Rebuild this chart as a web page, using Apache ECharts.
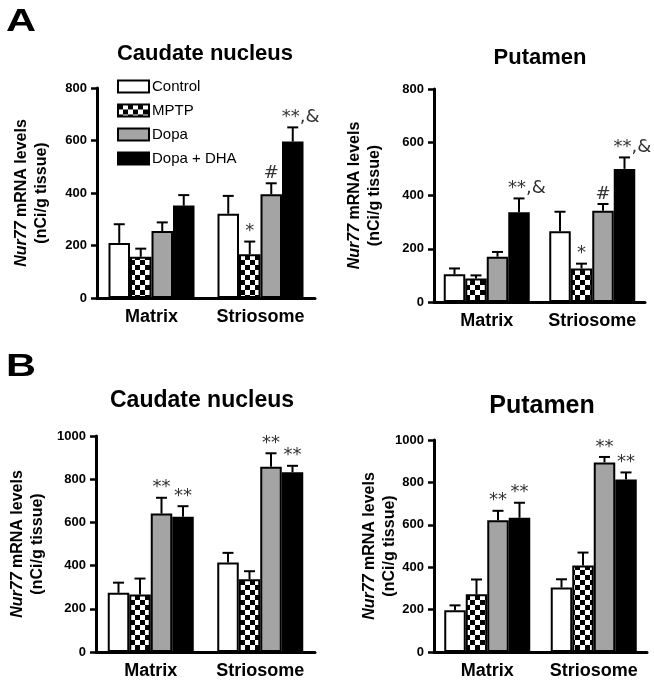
<!DOCTYPE html>
<html><head><meta charset="utf-8">
<script src="https://cdn.jsdelivr.net/npm/echarts@6/dist/echarts.min.js"></script>
<style>html,body{margin:0;padding:0;background:#fff}#c{width:654px;height:683px}</style>
</head><body><div id="c"></div>
<script>
// ---- data ----
const categories = ['Matrix', 'Striosome'];
const groups = ['Control', 'MPTP', 'Dopa', 'Dopa + DHA'];
const yTicksA = [0, 200, 400, 600, 800];
const yTicksB = [0, 200, 400, 600, 800, 1000];

// Panel A, caudate nucleus: [Matrix, Striosome]
const aCaudControl = [210, 321], aCaudControlErr = [71, 68];
const aCaudMPTP = [157, 167],    aCaudMPTPErr = [31, 48];
const aCaudDopa = [255, 395],    aCaudDopaErr = [33, 42];
const aCaudDHA = [352, 596],     aCaudDHAErr = [40, 54];
const aCaudMarks = [['', '', '', ''], ['', '*', '#', '**,&']];

// Panel A, putamen
const aPutControl = [104, 266], aPutControlErr = [22, 73];
const aPutMPTP = [88, 126],     aPutMPTPErr = [12, 18];
const aPutDopa = [170, 343],    aPutDopaErr = [18, 25];
const aPutDHA = [337, 500],     aPutDHAErr = [52, 43];
const aPutMarks = [['', '', '', '**,&'], ['', '*', '#', '**,&']];

// Panel B, caudate nucleus
const bCaudControl = [274, 414], bCaudControlErr = [47, 45];
const bCaudMPTP = [266, 337],    bCaudMPTPErr = [74, 37];
const bCaudDopa = [641, 858],    bCaudDopaErr = [73, 62];
const bCaudDHA = [626, 832],     bCaudDHAErr = [49, 30];
const bCaudMarks = [['', '', '**', '**'], ['', '', '**', '**']];

// Panel B, putamen
const bPutControl = [197, 304], bPutControlErr = [23, 39];
const bPutMPTP = [272, 408],    bPutMPTPErr = [70, 61];
const bPutDopa = [622, 894],    bPutDopaErr = [44, 26];
const bPutDHA = [633, 814],     bPutDHAErr = [71, 33];
const bPutMarks = [['', '', '**', '**'], ['', '', '**', '**']];

// ---- styling ----
const FONT = 'Arial, "Liberation Sans", sans-serif';
const MARKFONT = '"DejaVu Sans", Arial, sans-serif';
function checker() {
  const c = document.createElement('canvas'); c.width = 10; c.height = 10;
  const g = c.getContext('2d');
  g.fillStyle = '#fff'; g.fillRect(0, 0, 10, 10);
  g.fillStyle = '#000'; g.fillRect(0, 0, 5, 5); g.fillRect(5, 5, 5, 5);
  return c;
}
const fills = ['#ffffff', { image: checker(), repeat: 'repeat' }, '#a4a4a4', '#000000'];
const BW = 21.5;

const panels = [
  { means: [aCaudControl, aCaudMPTP, aCaudDopa, aCaudDHA], errs: [aCaudControlErr, aCaudMPTPErr, aCaudDopaErr, aCaudDHAErr], marks: aCaudMarks, ticks: yTicksA,
    grid: { left: 97, top: 88, width: 218, height: 210 }, nameGap: 45 },
  { means: [aPutControl, aPutMPTP, aPutDopa, aPutDHA], errs: [aPutControlErr, aPutMPTPErr, aPutDopaErr, aPutDHAErr], marks: aPutMarks, ticks: yTicksA,
    grid: { left: 434, top: 89, width: 211, height: 213 }, nameGap: 49 },
  { means: [bCaudControl, bCaudMPTP, bCaudDopa, bCaudDHA], errs: [bCaudControlErr, bCaudMPTPErr, bCaudDopaErr, bCaudDHAErr], marks: bCaudMarks, ticks: yTicksB,
    grid: { left: 96, top: 436, width: 219, height: 216 }, nameGap: 48 },
  { means: [bPutControl, bPutMPTP, bPutDopa, bPutDHA], errs: [bPutControlErr, bPutMPTPErr, bPutDopaErr, bPutDHAErr], marks: bPutMarks, ticks: yTicksB,
    grid: { left: 434, top: 440, width: 213, height: 212 }, nameGap: 34 }
];

const grid = [], xAxis = [], yAxis = [], series = [];
panels.forEach((p, k) => {
  grid.push(Object.assign({ containLabel: false }, p.grid));
  xAxis.push({
    type: 'category', gridIndex: k, data: categories,
    axisLine: { lineStyle: { color: '#000', width: 3 } },
    axisTick: { show: false },
    axisLabel: { interval: 0, hideOverlap: false, color: '#000', fontFamily: FONT, fontWeight: 'bold', fontSize: 18, margin: 10 }
  });
  const t = p.ticks;
  yAxis.push({
    type: 'value', gridIndex: k, min: t[0], max: t[t.length - 1], interval: t[1] - t[0],
    splitLine: { show: false },
    axisLine: { show: true, lineStyle: { color: '#000', width: 3 } },
    axisTick: { show: true, length: 6, lineStyle: { color: '#000', width: 2.5 } },
    axisLabel: { color: '#000', fontFamily: FONT, fontWeight: 'bold', fontSize: 13, margin: 10, formatter: v => String(v) },
    name: '{i|Nur77} mRNA levels\n(nCi/g tissue)',
    nameLocation: 'middle', nameRotate: 90, nameGap: p.nameGap, nameMoveOverlap: false,
    nameTextStyle: {
      color: '#000', fontFamily: FONT, fontWeight: 'bold', fontSize: 16, lineHeight: 20, align: 'center',
      rich: { i: { fontFamily: FONT, fontWeight: 'bold', fontStyle: 'italic', fontSize: 16, lineHeight: 20, color: '#000' } }
    }
  });
  groups.forEach((gname, gi) => {
    series.push({
      type: 'bar', name: gname, xAxisIndex: k, yAxisIndex: k, data: p.means[gi],
      barWidth: BW, barGap: '0%', z: 2,
      itemStyle: { color: fills[gi], borderColor: '#000', borderWidth: 2 }
    });
  });
  const errData = [];
  categories.forEach((c, ci) => groups.forEach((g, gi) => {
    errData.push([ci, gi, p.means[gi][ci], p.errs[gi][ci], p.marks[ci][gi]]);
  }));
  series.push({
    type: 'custom', xAxisIndex: k, yAxisIndex: k, z: 3, silent: true,
    data: errData,
    renderItem: function (params, api) {
      const ci = api.value(0), gi = api.value(1), m = api.value(2), e = api.value(3);
      const mark = errData[params.dataIndex][4];
      const base = api.coord([ci, m]);
      const top = api.coord([ci, m + e]);
      const x = base[0] + (gi - 1.5) * BW;
      const children = [
        { type: 'line', shape: { x1: x, y1: base[1], x2: x, y2: top[1] }, style: { stroke: '#000', lineWidth: 2 } },
        { type: 'line', shape: { x1: x - 5.5, y1: top[1], x2: x + 5.5, y2: top[1] }, style: { stroke: '#000', lineWidth: 2 } }
      ];
      if (mark) {
        children.push({ type: 'text', x: x + (mark.indexOf('&') >= 0 ? 8 : 0), y: top[1] - 1,
          style: { text: mark, font: '18px ' + MARKFONT, fill: '#333', align: 'center', verticalAlign: 'bottom' } });
      }
      return { type: 'group', children: children };
    }
  });
});

const graphic = [
  { type: 'text', x: 6, y: 22, scaleX: 1.3, style: { text: 'A', font: 'bold 32px ' + FONT, fill: '#000', verticalAlign: 'middle' } },
  { type: 'text', x: 205, y: 54, style: { text: 'Caudate nucleus', font: 'bold 22px ' + FONT, fill: '#000', align: 'center', verticalAlign: 'middle' } },
  { type: 'text', x: 540, y: 58, style: { text: 'Putamen', font: 'bold 22px ' + FONT, fill: '#000', align: 'center', verticalAlign: 'middle' } },
  { type: 'text', x: 6, y: 367, scaleX: 1.3, style: { text: 'B', font: 'bold 32px ' + FONT, fill: '#000', verticalAlign: 'middle' } },
  { type: 'text', x: 202, y: 401, style: { text: 'Caudate nucleus', font: 'bold 23px ' + FONT, fill: '#000', align: 'center', verticalAlign: 'middle' } },
  { type: 'text', x: 542, y: 406, style: { text: 'Putamen', font: 'bold 25px ' + FONT, fill: '#000', align: 'center', verticalAlign: 'middle' } }
];

const chart = echarts.init(document.getElementById('c'), null, { renderer: 'canvas' });
chart.setOption({
  animation: false,
  backgroundColor: '#fff',
  graphic: graphic,
  legend: {
    data: groups, orient: 'vertical', left: 112, top: 74,
    itemWidth: 31, itemHeight: 12, itemGap: 9,
    icon: 'rect',
    textStyle: { color: '#000', fontFamily: FONT, fontSize: 15, padding: [0, 0, 0, -2] },
    selectedMode: false
  },
  grid: grid, xAxis: xAxis, yAxis: yAxis, series: series
});
</script>
</body></html>
